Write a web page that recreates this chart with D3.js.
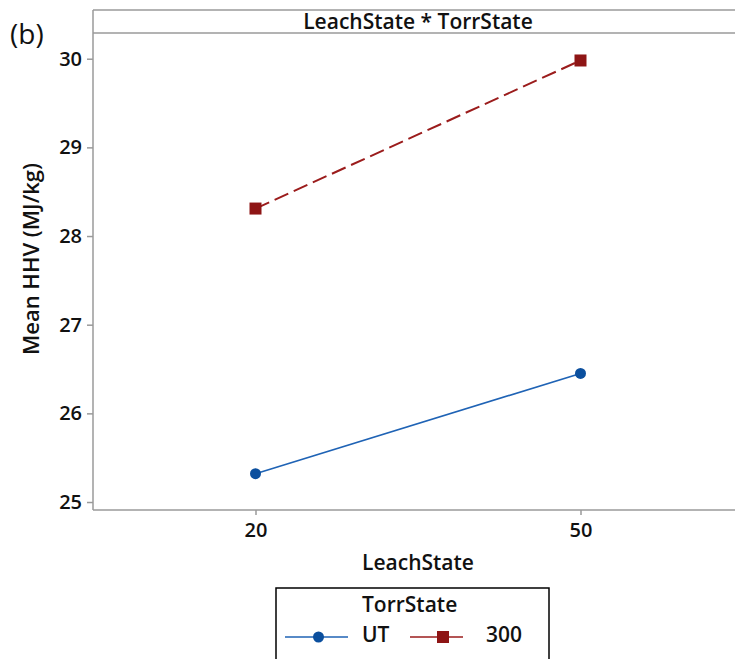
<!DOCTYPE html>
<html>
<head>
<meta charset="utf-8">
<script src="https://cdn.jsdelivr.net/npm/d3@7"></script>
<style>
  body { margin: 0; background: #fff; overflow: hidden; }
  svg { display: block; }
  svg text { font-family: "Open Sans", "Noto Sans", sans-serif; fill: #111; }
</style>
</head>
<body>
<svg class="target" width="735" height="659"></svg>
<script>
// data
var leach = [20, 50];
var series = ["UT", "300"];
var meanUT = [25.32, 26.45];
var mean300 = [28.31, 29.98];
var yTicks = [25, 26, 27, 28, 29, 30];

var colors = {"UT": "#1f63b5", "300": "#9b1c1c"};
var markColors = {"UT": "#0b4f9e", "300": "#8e1515"};

var svg = d3.select(".target");

var m_left = 93, m_right = 743, m_top = 10, m_head = 33, m_bottom = 510;

var x = d3.scaleLinear().domain([5, 65]).range([m_left, m_right]);
var y = d3.scaleLinear().domain([24.91, 30.29]).range([m_bottom, m_head]);

// frame (right edge falls outside the picture)
var frame_line = function (x1, y1, x2, y2) {
    svg.append("line")
        .attr("x1", x1).attr("y1", y1).attr("x2", x2).attr("y2", y2)
        .style("stroke", "#9a9a9a").style("stroke-width", 1.5);
}
frame_line(m_left, m_top, 735, m_top);
frame_line(m_left, m_head, 735, m_head);
frame_line(m_left, m_bottom, 735, m_bottom);
frame_line(m_left, m_top, m_left, m_bottom);

svg.append("text")
    .attr("x", (m_left + m_right) / 2).attr("y", 29)
    .attr("text-anchor", "middle")
    .style("font-size", "21px").style("font-weight", 600)
    .text("LeachState * TorrState");

// axes
var yAxis = svg.append("g")
    .attr("transform", "translate(" + m_left + ",0)")
    .call(d3.axisLeft(y).tickValues(yTicks).tickFormat(d3.format("d"))
        .tickSize(6).tickPadding(5).tickSizeOuter(0));
var xAxis = svg.append("g")
    .attr("transform", "translate(0," + m_bottom + ")")
    .call(d3.axisBottom(x).tickValues(leach).tickFormat(d3.format("d"))
        .tickSize(5).tickPadding(8).tickSizeOuter(0));

[yAxis, xAxis].forEach(function (ax) {
    ax.select(".domain").remove();
    ax.selectAll("line").style("stroke", "#9a9a9a").style("stroke-width", 1.5);
    ax.selectAll("text")
        .style("font-size", "20px").style("font-weight", 600)
        .style("fill", "#111")
        .style("font-family", "'Open Sans', sans-serif");
});

svg.append("text")
    .attr("x", (m_left + m_right) / 2).attr("y", 570)
    .attr("text-anchor", "middle")
    .style("font-size", "21px").style("font-weight", 600)
    .text("LeachState");

svg.append("text")
    .attr("transform", "translate(39,259) rotate(-90)")
    .attr("text-anchor", "middle")
    .style("font-size", "22px").style("font-weight", 600)
    .text("Mean HHV (MJ/kg)");

svg.append("text")
    .attr("x", 10).attr("y", 44)
    .style("font-size", "28px")
    .text("(b)");

// lines
var line = d3.line().x(function (d, i) { return x(leach[i]); }).y(function (d) { return y(d); });

svg.append("path").datum(meanUT).attr("d", line)
    .style("fill", "none").style("stroke", colors["UT"]).style("stroke-width", 1.6);
svg.append("path").datum(mean300).attr("d", line)
    .style("fill", "none").style("stroke", colors["300"]).style("stroke-width", 2)
    .style("stroke-dasharray", "15,6");

var draw_circle = function (cx, cy) {
    svg.append("circle").attr("cx", cx).attr("cy", cy).attr("r", 5.5)
        .style("fill", markColors["UT"]);
}
var draw_square = function (cx, cy) {
    svg.append("rect").attr("x", cx - 6).attr("y", cy - 6).attr("width", 12).attr("height", 12)
        .style("fill", markColors["300"]);
}

meanUT.forEach(function (d, i) { draw_circle(x(leach[i]), y(d)); });
mean300.forEach(function (d, i) { draw_square(x(leach[i]), y(d)); });

// legend
svg.append("rect")
    .attr("x", 276).attr("y", 588).attr("width", 273).attr("height", 90)
    .style("fill", "none").style("stroke", "#000").style("stroke-width", 1.5);
svg.append("text")
    .attr("x", 362).attr("y", 612)
    .style("font-size", "21px").style("font-weight", 600)
    .text("TorrState");

var ly = 637;
svg.append("line").attr("x1", 285).attr("x2", 348).attr("y1", ly).attr("y2", ly)
    .style("stroke", colors["UT"]).style("stroke-width", 1.6);
draw_circle(318.5, ly);
svg.append("text").attr("x", 362).attr("y", ly + 5)
    .style("font-size", "21px").style("font-weight", 600).text(series[0]);

svg.append("line").attr("x1", 410).attr("x2", 463).attr("y1", ly).attr("y2", ly)
    .style("stroke", colors["300"]).style("stroke-width", 1.6);
draw_square(443, ly);
svg.append("text").attr("x", 486).attr("y", ly + 5)
    .style("font-size", "21px").style("font-weight", 600).text(series[1]);
</script>
</body>
</html>
